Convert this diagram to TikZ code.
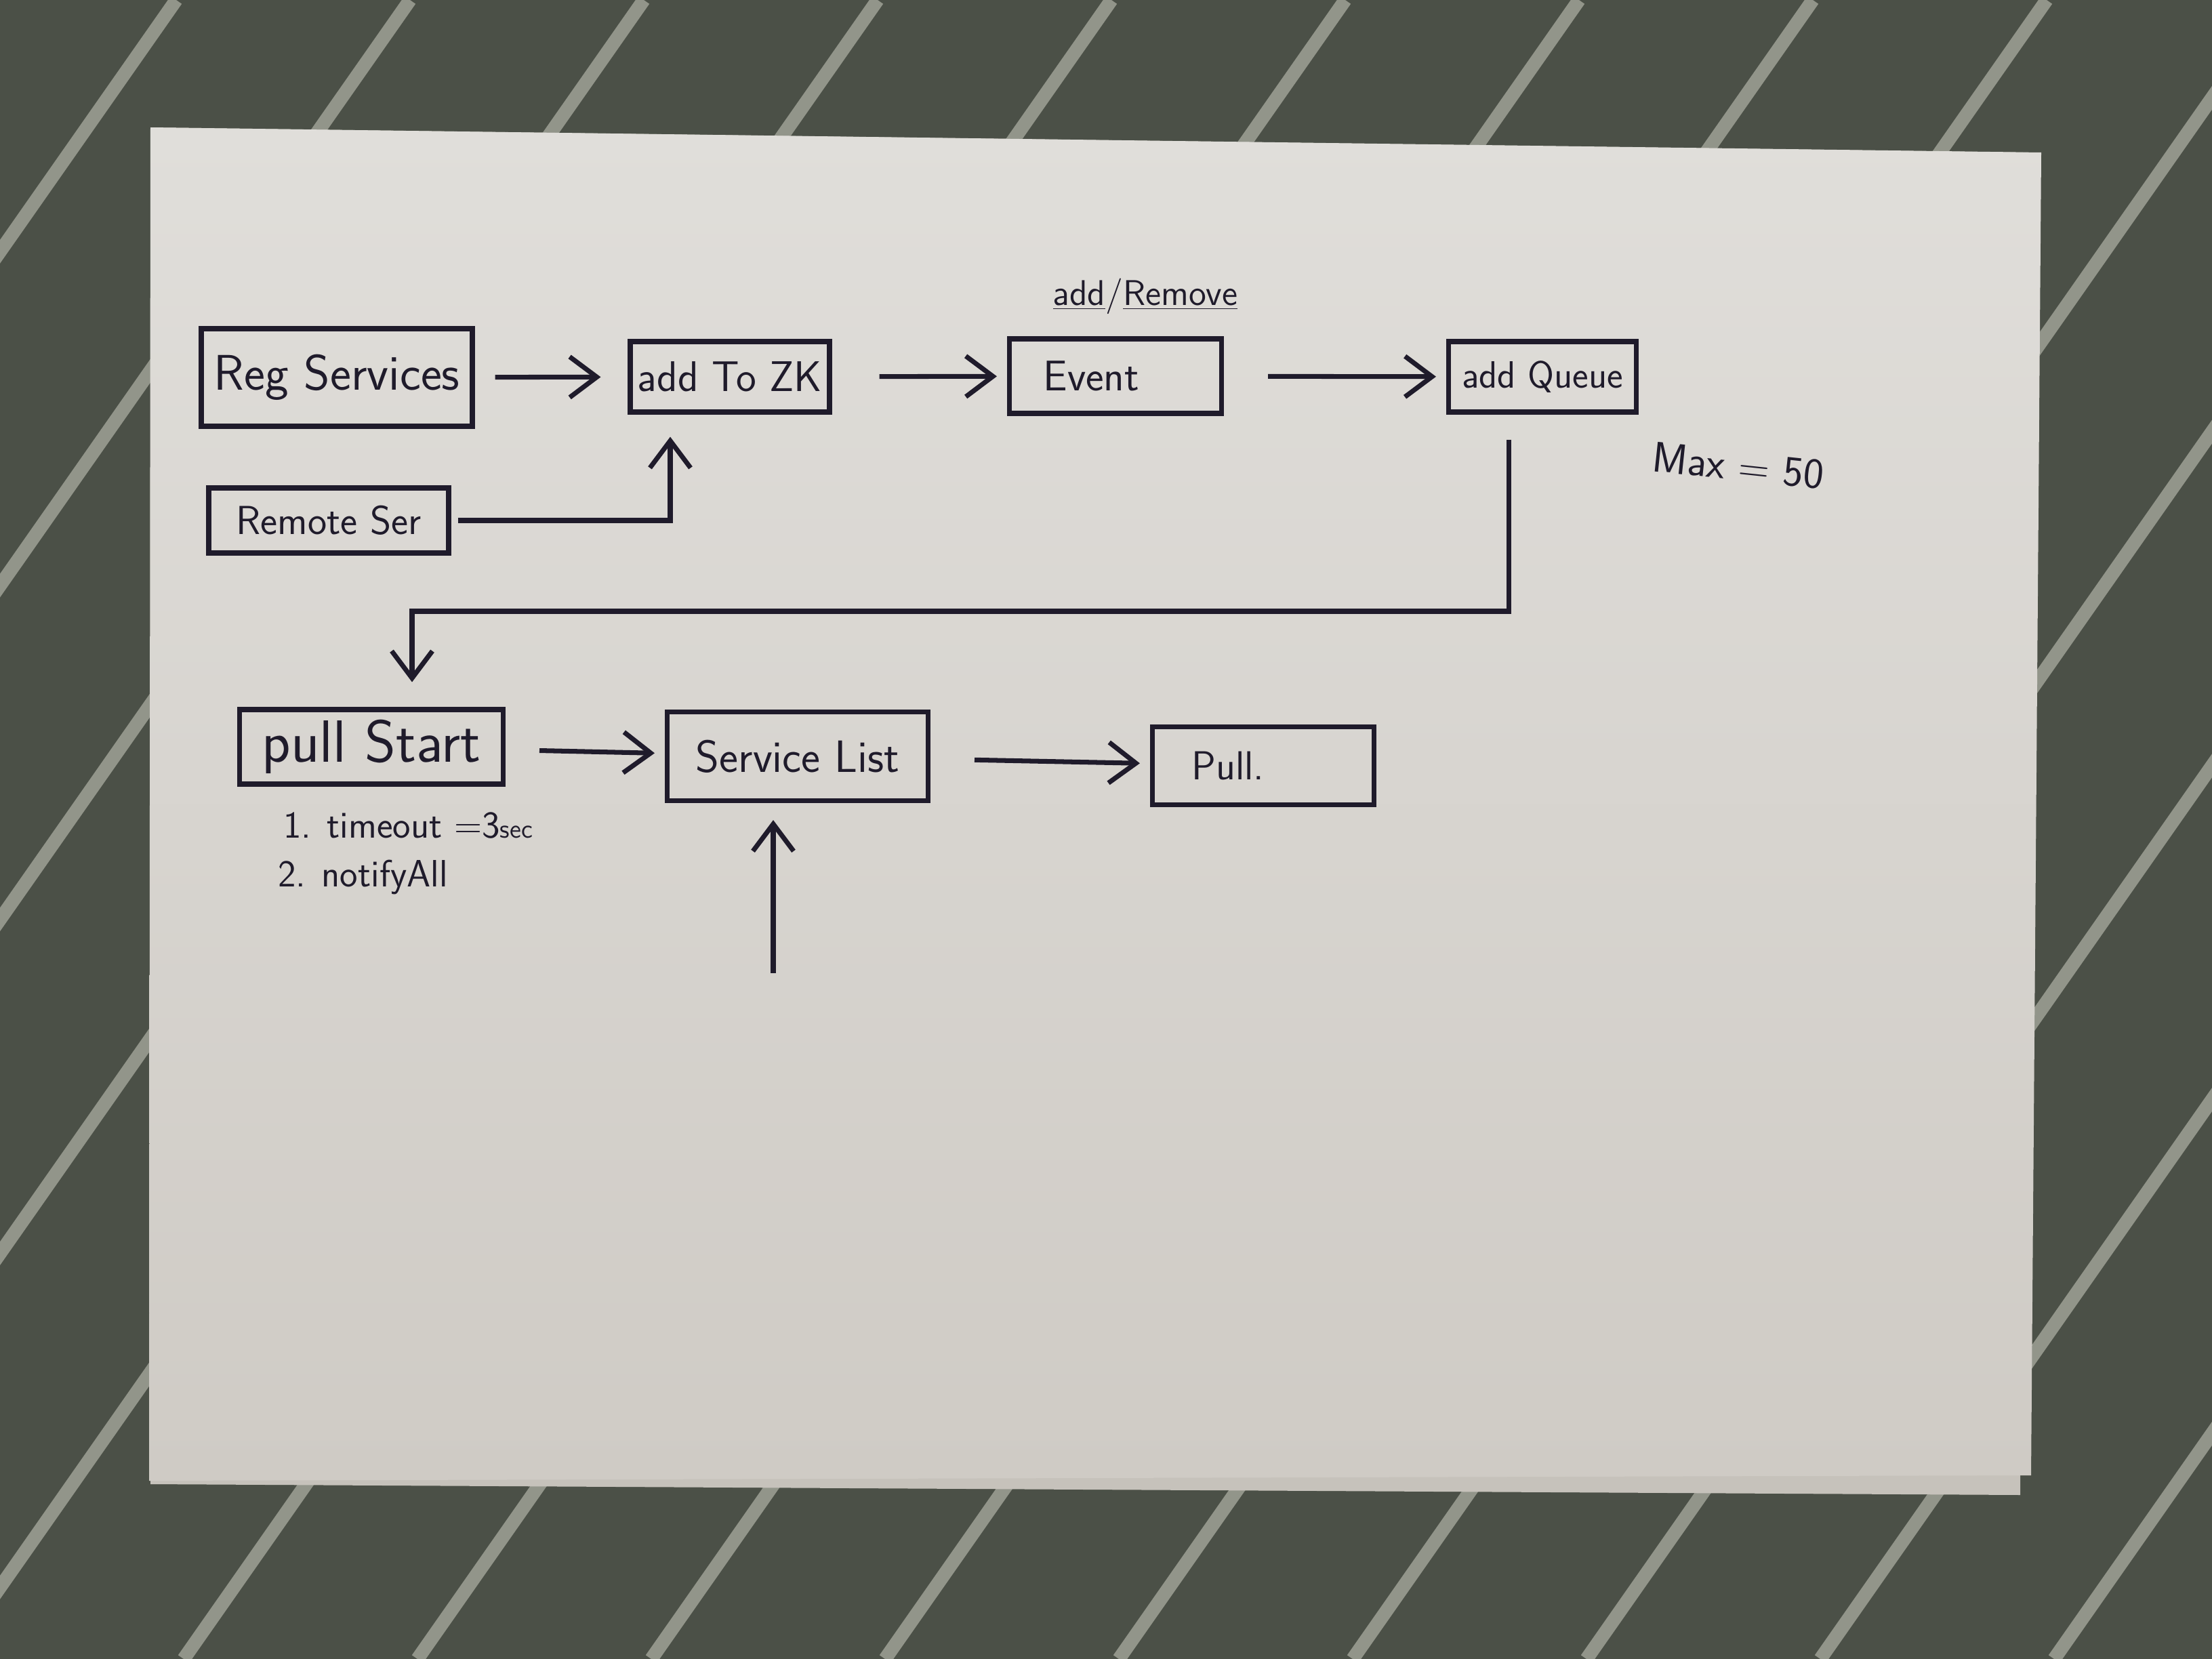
\documentclass[tikz,border=0pt]{standalone}
\usepackage{tikz}
\usetikzlibrary{arrows.meta}

\definecolor{ink}{HTML}{1F1B2B}
\definecolor{cloth}{HTML}{4B5047}
\definecolor{stripe}{HTML}{92958A}
\definecolor{papertop}{HTML}{E0DEDA}
\definecolor{paperbot}{HTML}{CFCBC5}
\definecolor{undersheet}{HTML}{C6C2BB}

\newcommand{\fsz}[1]{\sffamily\fontsize{#1}{#1}\selectfont}

\tikzset{
  box/.style={draw=ink, line width=2pt, inner sep=2pt, text=ink, font=\fsz{17}},
  lefttext/.style={align=left, inner xsep=#1},
  note/.style={text=ink, inner sep=1pt, font=\fsz{14}},
  flow/.style={draw=ink, line width=2pt, -{Straight Barb[length=4mm, width=6mm]},
    shorten <=5mm, shorten >=1.5mm}
}

\begin{document}
\begin{tikzpicture}
      \useasboundingbox (0,0) rectangle (32.64,-24.48);

      % Cloth and paper
      \begin{scope}
        \clip (0,0) rectangle (32.64,-24.48);
        \fill[cloth] (0,0) rectangle (32.64,-24.48);
        \foreach \k in {0,...,15}
          \draw[stripe, line width=0.2cm] ({2.6+3.45*\k},0) -- ++(-17.14,-24.48);
      \end{scope}
      \fill[undersheet] (2.22,-1.88) -- (29.85,-2.25) -- (29.81,-22.06) -- (2.22,-21.90) -- cycle;
      \shade[top color=papertop, bottom color=paperbot]
        (2.22,-1.88) -- (30.12,-2.25) -- (29.97,-21.77) -- (2.20,-21.85) -- cycle;

      % Boxes
      \node[box, font=\fsz{21}, minimum width=4.0cm, minimum height=1.44cm] (reg) at (4.97,-5.57) {Reg Services};
      \node[box, font=\fsz{18}, minimum width=2.94cm, minimum height=1.04cm] (zk) at (10.77,-5.56) {add To ZK};
      \node[box, font=\fsz{18}, lefttext=0.5cm, text width=2.13cm, minimum height=1.10cm] (event) at (16.46,-5.55) {Event};
      \node[box, font=\fsz{16}, minimum width=2.77cm, minimum height=1.04cm] (queue) at (22.76,-5.56) {add Queue};
      \node[box, minimum width=3.54cm, minimum height=0.96cm] (remote) at (4.85,-7.68) {Remote Ser};
      \node[box, font=\fsz{25}, minimum width=3.89cm, minimum height=1.10cm] (start) at (5.48,-11.02) {pull Start};
      \node[box, font=\fsz{19}, minimum width=3.85cm, minimum height=1.31cm] (list) at (11.77,-11.16) {Service List};
      \node[box, lefttext=0.58cm, text width=2.11cm, minimum height=1.15cm] (pulled) at (18.64,-11.30) {Pull.};

      % Notes
      \node[note, font=\fsz{15}] (change) at (16.90,-4.37) {\underline{add}/\underline{Remove}};
      \node[note, font=\fsz{18}, rotate=-6] (maxnote) at (25.65,-6.87) {Max = 50};
      \node[note, font=\fsz{16}, anchor=west] (timeout) at (4.14,-12.18) {1. timeout =3{\fsz{11}sec}};
      \node[note, font=\fsz{16}, anchor=west] (notify) at (4.06,-12.94) {2. notifyAll};

      % Arrows
      \coordinate (turn) at (22.26,-9.02);
      \coordinate (feed) at (11.41,-14.36);
      \draw[flow, shorten <=3mm, shorten >=4mm] (reg) -- (zk);
      \draw[flow, shorten <=7mm] (zk) -- (event);
      \draw[flow, shorten <=6.5mm] (event) -- (queue);
      \draw[flow, shorten <=1mm, shorten >=3.3mm] (remote.east) -| ([xshift=-8.8mm]zk.south);
      \draw[flow, shorten <=3.7mm, shorten >=3.7mm] ([xshift=-5mm]queue.south) -- (turn) -| ([xshift=6mm]start.north);
      \draw[flow] (start) -- (list);
      \draw[flow, shorten <=6.5mm] (list) -- (pulled);
      \draw[flow, shorten <=0mm, shorten >=2.5mm] (feed) -- (feed |- list.south);
\end{tikzpicture}
\end{document}
